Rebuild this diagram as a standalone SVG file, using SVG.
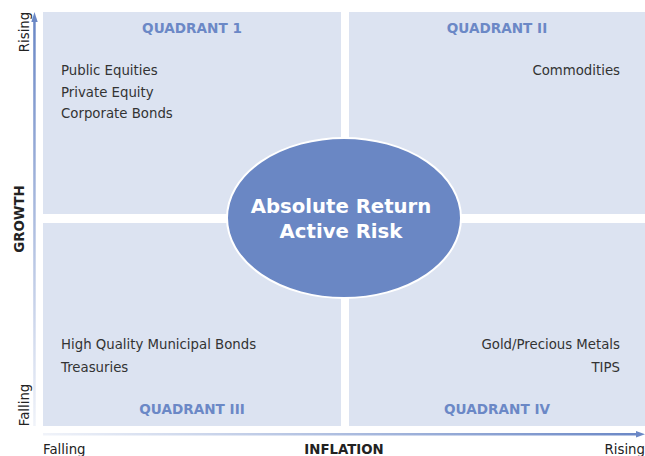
<svg xmlns="http://www.w3.org/2000/svg" width="645" height="456" viewBox="0 0 645 456">
<style>
.quad{fill:#dce3f1}
.qt{font-family:"DejaVu Sans",Verdana,sans-serif;font-size:13.6px;font-weight:bold;fill:#6b88c6;text-anchor:middle}
.it{font-family:"DejaVu Sans",Verdana,sans-serif;font-size:13.3px;fill:#333333}
.ax{font-family:"DejaVu Sans",Verdana,sans-serif;font-size:13.3px;fill:#222222}
.axb{font-family:"DejaVu Sans",Verdana,sans-serif;font-size:13.3px;font-weight:bold;fill:#222222}
.ct{font-family:"DejaVu Sans",Verdana,sans-serif;font-size:19.7px;font-weight:bold;fill:#ffffff;text-anchor:middle}
</style>
<defs>
<linearGradient id="gh" x1="0" y1="0" x2="1" y2="0">
<stop offset="0" stop-color="#6b88c6" stop-opacity="0.1"/>
<stop offset="1" stop-color="#6b88c6"/>
</linearGradient>
<linearGradient id="gv" x1="0" y1="1" x2="0" y2="0">
<stop offset="0" stop-color="#6b88c6" stop-opacity="0.1"/>
<stop offset="1" stop-color="#6b88c6"/>
</linearGradient>
</defs>
<rect width="645" height="456" fill="#ffffff"/>
<g id="q1"><rect class="quad" x="43" y="12" width="298" height="202"/>
<text class="qt" x="192" y="33">QUADRANT 1</text>
<text class="it" x="61" y="75">Public Equities</text>
<text class="it" x="61" y="97">Private Equity</text>
<text class="it" x="61" y="118">Corporate Bonds</text></g>
<g id="q2"><rect class="quad" x="349" y="12" width="296" height="202"/>
<text class="qt" x="497" y="33">QUADRANT II</text>
<text class="it" x="620" y="75" text-anchor="end">Commodities</text></g>
<g id="q3"><rect class="quad" x="43" y="223" width="298" height="203"/>
<text class="qt" x="192" y="414">QUADRANT III</text>
<text class="it" x="61" y="349">High Quality Municipal Bonds</text>
<text class="it" x="61" y="372">Treasuries</text></g>
<g id="q4"><rect class="quad" x="349" y="223" width="296" height="203"/>
<text class="qt" x="497" y="414">QUADRANT IV</text>
<text class="it" x="620" y="349" text-anchor="end">Gold/Precious Metals</text>
<text class="it" x="620" y="372" text-anchor="end">TIPS</text></g>
<g id="center"><ellipse cx="344" cy="218" rx="117" ry="80" fill="#6a87c4" stroke="#ffffff" stroke-width="2"/>
<text class="ct" x="341" y="213">Absolute Return</text>
<text class="ct" x="341" y="238">Active Risk</text></g>
<g id="axes">
<rect x="43" y="433" width="594" height="2.5" fill="url(#gh)"/>
<polygon points="645,434.2 636,431 636,437.4" fill="#6b88c6"/>
<rect x="33.2" y="22" width="2.5" height="404" fill="url(#gv)"/>
<polygon points="34.5,12 31.3,22 37.7,22" fill="#6b88c6"/>
</g>
<g id="labels">
<text class="ax" transform="translate(29,32) rotate(-90)" text-anchor="middle">Rising</text>
<text class="ax" transform="translate(29,405) rotate(-90)" text-anchor="middle">Falling</text>
<text class="axb" transform="translate(24,219) rotate(-90)" text-anchor="middle">GROWTH</text>
<text class="ax" x="43" y="454">Falling</text>
<text class="axb" x="344" y="454" text-anchor="middle">INFLATION</text>
<text class="ax" x="645" y="454" text-anchor="end">Rising</text>
</g>
</svg>
